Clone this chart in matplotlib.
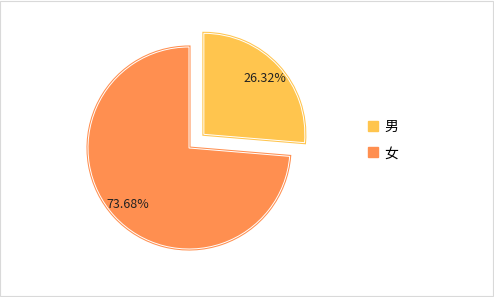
import matplotlib
import matplotlib.pyplot as plt
matplotlib.use('Agg')

plt.rcParams['font.family'] = ['Noto Sans CJK SC', 'DejaVu Sans']

# Données
labels = ['男', '女']
values = [26.32, 73.68]
colors = ['#FFC54E', '#FF8F50']
explode = (0.2, 0)

fig = plt.figure(figsize=(4.94, 2.97), dpi=100)
W, H = 494, 297
cx, cy, r = 189, 149, 101  # centre du camembert en pixels (depuis le bas)
half_w, half_h = 135, 145
ax = fig.add_axes([(cx - half_w) / W, (cy - half_h) / H, 2 * half_w / W, 2 * half_h / H])

# contour coloré puis liseré blanc
ax.pie(values, explode=explode, colors=colors, startangle=90, counterclock=False)
for w, c in zip(ax.patches, colors):
    w.set_edgecolor(c)
    w.set_linewidth(2.2)
wedges2, texts, autotexts = ax.pie(values, explode=explode, colors=colors, startangle=90,
                                   counterclock=False, autopct='%1.2f%%', pctdistance=0.82,
                                   wedgeprops=dict(edgecolor='white', linewidth=0.7),
                                   textprops=dict(fontsize=9, color='#222222'))
ax.set_aspect('auto')
ax.set_xlim(-half_w / r, half_w / r)
ax.set_ylim(-half_h / r, half_h / r)
ax.axis('off')

leg = fig.legend(wedges2, labels, loc='center left', bbox_to_anchor=(355 / W, 1 - 140 / H),
                 frameon=False, fontsize=10, handlelength=0.75, handleheight=0.75,
                 handletextpad=0.45, labelspacing=0.9)
for h, c in zip(leg.legend_handles, colors):
    h.set_edgecolor(c)
    h.set_linewidth(1.0)

# bordure du graphique
fig.patches.append(plt.Rectangle((0.001, 0.002), 0.997, 0.995, transform=fig.transFigure,
                                 fill=False, edgecolor='#D9D9D9', linewidth=0.8))

plt.savefig('out.png')
plt.close()
